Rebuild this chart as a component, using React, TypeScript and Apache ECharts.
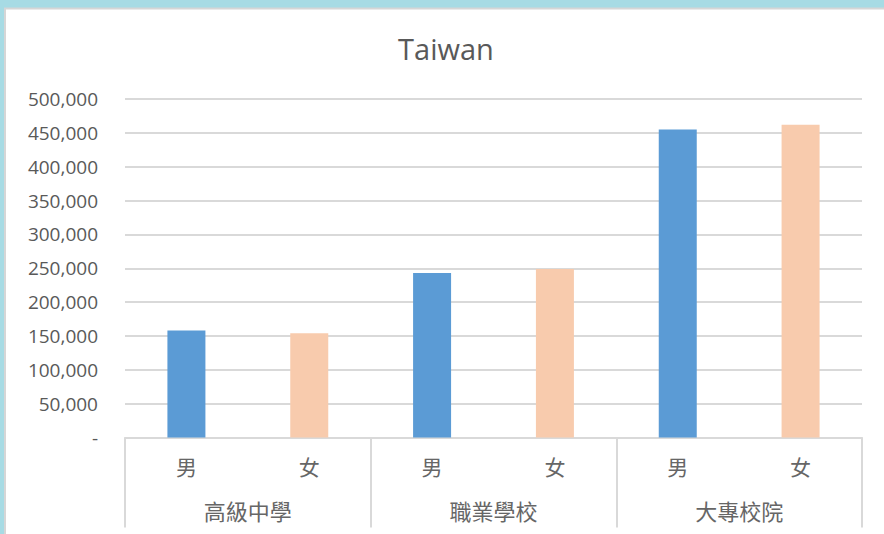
import React, { useEffect, useRef } from "react";
import * as echarts from "echarts";

const titleText = "Taiwan";
const groups = ["高級中學", "職業學校", "大專校院"];
const genders = ["男", "女"];
const maleValues = [158000, 243000, 455000];
const femaleValues = [154000, 249000, 462000];
const yMin = 0;
const yMax = 500000;
const yInterval = 50000;

const MALE_COLOR = "#5b9bd5";
const FEMALE_COLOR = "#f8cbad";
const TEXT_COLOR = "#595959";
const GRID_COLOR = "#d9d9d9";
const FONT = "'Open Sans', 'Noto Sans CJK TC', sans-serif";

export default function App() {
  const ref = useRef<HTMLDivElement>(null);

  useEffect(() => {
    if (!ref.current) return;
    const chart = echarts.init(ref.current, null, { renderer: "svg" });

    const innerCats: string[] = [];
    const barData: any[] = [];
    groups.forEach((g, i) => {
      innerCats.push(genders[0], genders[1]);
      barData.push({ value: maleValues[i], itemStyle: { color: MALE_COLOR } });
      barData.push({ value: femaleValues[i], itemStyle: { color: FEMALE_COLOR } });
    });

    chart.setOption({
      animation: false,
      backgroundColor: "#a7dbe4",
      textStyle: { fontFamily: FONT },
      graphic: [
        {
          type: "rect",
          shape: { x: 5, y: 8.5, width: 884, height: 534 },
          style: { fill: "#ffffff", stroke: "#d6d6d6", lineWidth: 2 },
          z: -10,
        },
        {
          type: "text",
          x: 446,
          y: 48,
          style: {
            text: titleText,
            fill: TEXT_COLOR,
            font: "29px 'Open Sans', sans-serif",
            textAlign: "center",
            textVerticalAlign: "middle",
          },
        },
      ],
      grid: { left: 125, right: 22, top: 99, bottom: 96.5, containLabel: false },
      xAxis: [
        {
          type: "category",
          data: innerCats,
          position: "bottom",
          axisLine: { show: true, lineStyle: { color: GRID_COLOR, width: 2 } },
          axisTick: { show: false },
          axisLabel: {
            color: "#666666",
            fontSize: 21,
            margin: 18,
            interval: 0,
            fontFamily: "'Noto Sans CJK TC', sans-serif",
          },
        },
        {
          type: "category",
          data: groups,
          position: "bottom",
          offset: 0,
          axisLine: { show: false },
          axisTick: {
            show: true,
            length: 90,
            alignWithLabel: false,
            lineStyle: { color: GRID_COLOR, width: 2 },
          },
          axisLabel: {
            color: "#666666",
            fontSize: 22,
            margin: 61,
            interval: 0,
            fontFamily: "'Noto Sans CJK TC', sans-serif",
          },
        },
      ],
      yAxis: {
        type: "value",
        min: yMin,
        max: yMax,
        interval: yInterval,
        axisLine: { show: false },
        axisTick: { show: false },
        splitLine: { show: true, lineStyle: { color: GRID_COLOR, width: 2 } },
        axisLabel: {
          color: TEXT_COLOR,
          fontSize: 19,
          margin: 27,
          formatter: (v: number) => (v === 0 ? "-" : v.toLocaleString("en-US")),
        },
      },
      series: [
        {
          type: "bar",
          xAxisIndex: 0,
          data: barData,
          barWidth: 38,
        },
      ],
    });

    return () => chart.dispose();
  }, []);

  return (
    <div
      ref={ref}
      style={{ position: "fixed", left: 0, top: 0, width: 884, height: 534 }}
    />
  );
}
